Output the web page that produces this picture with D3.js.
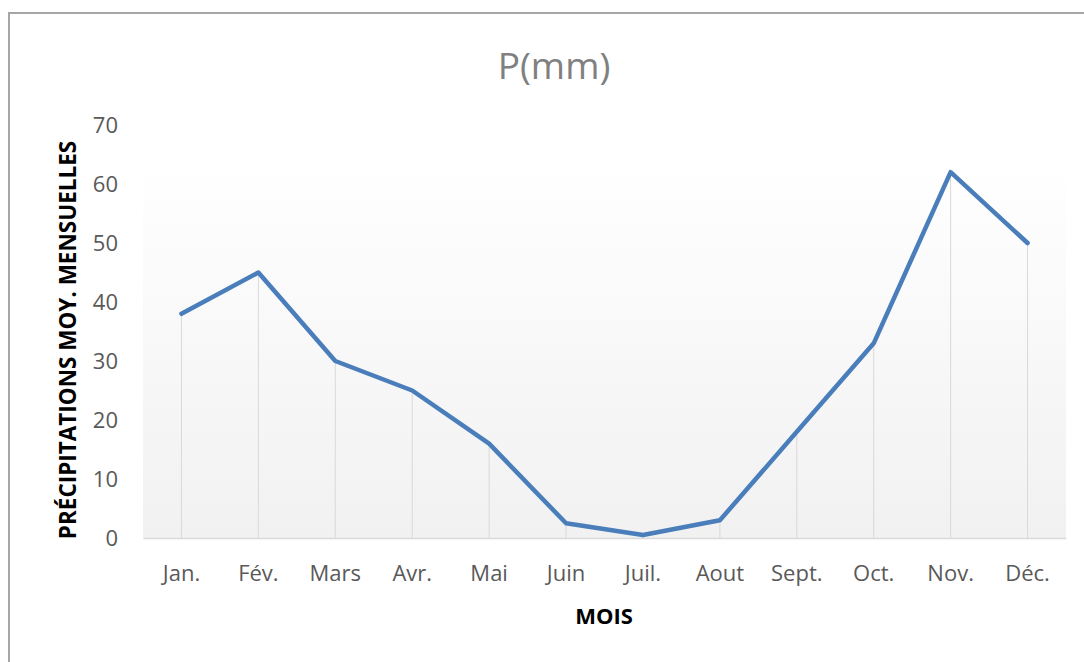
<!DOCTYPE html>
<html>
<head>
<meta charset="utf-8">
<script src="https://cdn.jsdelivr.net/npm/d3@7"></script>
<style>
  body { margin: 0; background: #fff; }
  svg { display: block; }
</style>
</head>
<body>
<svg id="chart"></svg>
<script>
// data
var months = ["Jan.", "Fév.", "Mars", "Avr.", "Mai", "Juin", "Juil.", "Aout", "Sept.", "Oct.", "Nov.", "Déc."];
var precip = [38, 45, 30, 25, 16, 2.5, 0.5, 3, 18, 33, 62, 50];
var yTicks = [0, 10, 20, 30, 40, 50, 60, 70];

var width = 1084, height = 662;
var margin = {top: 125, right: 18, bottom: 124, left: 143};

var svg = d3.select("#chart")
  .attr("width", width)
  .attr("height", height);

// chart frame (cut off at right and bottom)
svg.append("rect")
  .attr("x", 9).attr("y", 13)
  .attr("width", 1090).attr("height", 700)
  .attr("fill", "none")
  .attr("stroke", "#a6a6a6")
  .attr("stroke-width", 2);

var x = d3.scaleBand()
  .domain(months)
  .range([margin.left, width - margin.right]);

var y = d3.scaleLinear()
  .domain([0, 70])
  .range([height - margin.bottom, margin.top]);

// plot area gradient
var defs = svg.append("defs");
var grad = defs.append("linearGradient")
  .attr("id", "plotbg")
  .attr("x1", 0).attr("y1", 0).attr("x2", 0).attr("y2", 1);
grad.append("stop").attr("offset", "0%").attr("stop-color", "#ffffff");
grad.append("stop").attr("offset", "100%").attr("stop-color", "#f1f1f1");

svg.append("rect")
  .attr("x", x.range()[0])
  .attr("y", y(62) - 12)
  .attr("width", x.range()[1] - x.range()[0])
  .attr("height", y(0) - y(62) + 12)
  .attr("fill", "url(#plotbg)");

// title
svg.append("text")
  .attr("x", 554).attr("y", 79)
  .attr("text-anchor", "middle")
  .style("font-family", "'Open Sans', sans-serif")
  .style("font-size", "37px")
  .style("fill", "#808080")
  .text("P(mm)");

// drop lines
svg.append("g")
  .selectAll("line")
  .data(precip)
  .enter()
  .append("line")
  .attr("x1", function(d, i) { return x(months[i]) + x.bandwidth() / 2; })
  .attr("x2", function(d, i) { return x(months[i]) + x.bandwidth() / 2; })
  .attr("y1", function(d) { return y(d); })
  .attr("y2", y(0))
  .attr("stroke", "#d9d9d9")
  .attr("stroke-width", 1);

// x axis
var xAxis = svg.append("g")
  .attr("transform", "translate(0," + y(0) + ")")
  .call(d3.axisBottom(x).tickSize(0).tickPadding(27));
xAxis.select(".domain").attr("stroke", "#d9d9d9").attr("stroke-width", 1.5);
xAxis.selectAll("text")
  .style("font-family", "'Open Sans', sans-serif")
  .style("font-size", "22px")
  .style("fill", "#595959");

// y axis
var yAxis = svg.append("g")
  .attr("transform", "translate(" + (margin.left - 25) + ",0)")
  .call(d3.axisLeft(y).tickValues(yTicks).tickSize(0).tickPadding(0));
yAxis.select(".domain").remove();
yAxis.selectAll("text")
  .style("font-family", "'Open Sans', sans-serif")
  .style("font-size", "22px")
  .style("fill", "#595959");

// axis titles
svg.append("text")
  .attr("transform", "translate(76," + 340 + ") rotate(-90)")
  .attr("text-anchor", "middle")
  .style("font-family", "'Open Sans', sans-serif")
  .style("font-size", "22.5px")
  .style("font-weight", "bold")
  .style("fill", "#000")
  .text("PRÉCIPITATIONS MOY. MENSUELLES");

svg.append("text")
  .attr("x", 604).attr("y", 624)
  .attr("text-anchor", "middle")
  .style("font-family", "'Open Sans', sans-serif")
  .style("font-size", "22px")
  .style("font-weight", "bold")
  .style("fill", "#000")
  .text("MOIS");

// the line
var line = d3.line()
  .x(function(d, i) { return x(months[i]) + x.bandwidth() / 2; })
  .y(function(d) { return y(d); });

svg.append("path")
  .datum(precip)
  .attr("d", line)
  .attr("fill", "none")
  .attr("stroke", "#4a7ebb")
  .attr("stroke-width", 4.5)
  .attr("stroke-linejoin", "round")
  .attr("stroke-linecap", "round");
</script>
</body>
</html>
